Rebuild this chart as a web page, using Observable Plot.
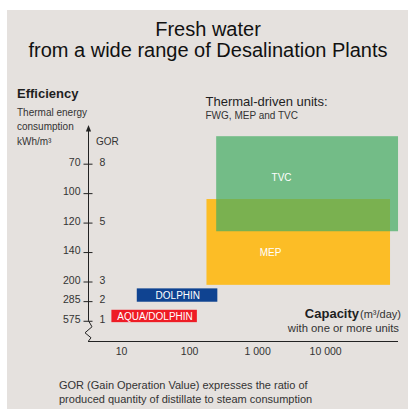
<!DOCTYPE html>
<html>
<head>
<meta charset="utf-8">
<script src="https://cdn.jsdelivr.net/npm/d3@7"></script>
<script src="https://cdn.jsdelivr.net/npm/@observablehq/plot@0.6"></script>
<style>
  html, body { margin: 0; padding: 0; background: #ffffff; }
  #wrap { position: relative; width: 408px; height: 409px; overflow: hidden; font-family: "Liberation Sans", Arial, sans-serif; color: #1e1e1e; }
  #panel { position: absolute; left: 7px; top: 10px; right: 0; bottom: 0; background: #e5e1de; }
  #chart { position: absolute; left: 0; top: 0; }
  .t { position: absolute; white-space: nowrap; line-height: 1; }
</style>
</head>
<body>
<div id="wrap">
  <div id="panel"></div>
  <div id="chart"></div>
  <div class="t" style="left:4px;width:408px;text-align:center;top:19px;font-size:20px;color:#111;">Fresh water</div>
  <div class="t" style="left:4px;width:408px;text-align:center;top:39.5px;font-size:20px;color:#111;">from a wide range of Desalination Plants</div>
  <div class="t" style="left:17px;top:86.5px;font-size:13px;font-weight:bold;">Efficiency</div>
  <div class="t" style="left:17px;top:107.5px;font-size:10px;color:#333;">Thermal energy</div>
  <div class="t" style="left:17px;top:122px;font-size:10px;color:#333;">consumption</div>
  <div class="t" style="left:17px;top:136.5px;font-size:10px;color:#333;">kWh/m³</div>
  <div class="t" style="left:96px;top:136.5px;font-size:10px;color:#333;">GOR</div>
  <div class="t" style="left:205.5px;top:95px;font-size:13px;">Thermal-driven units:</div>
  <div class="t" style="left:205.5px;top:110.5px;font-size:10px;color:#333;">FWG, MEP and TVC</div>
  <div class="t" style="right:7px;top:306.5px;font-size:13px;"><b>Capacity</b><span style="font-size:11px;color:#333;margin-left:1px;">(m³/day)</span></div>
  <div class="t" style="right:9px;top:322.5px;font-size:11.3px;color:#333;">with one or more units</div>
  <div class="t" style="left:59px;top:379.7px;font-size:11px;color:#333;">GOR (Gain Operation Value) expresses the ratio of</div>
  <div class="t" style="left:59px;top:393.7px;font-size:11px;color:#333;">produced quantity of distillate to steam consumption</div>
</div>
<script>
// ---- Data ----
// Efficiency axis: thermal energy consumption (kWh/m³) and GOR, by position on the (non-linear) efficiency scale
const effScalePos = [0, 1, 2, 3.5, 5, 6.5, 8];
const kwhLabels   = ["575", "285", "200", "140", "120", "100", "70"];
const gorLabels   = ["1", "2", "3", "", "5", "", "8"];

// Capacity axis (m³/day), log scale
const capTicks      = [10, 100, 1000, 10000];
const capTickLabels = ["10", "100", "1 000", "10 000"];

// Plant types: capacity range and efficiency-scale range
const plantNames = ["MEP", "TVC", "DOLPHIN", "AQUA/DOLPHIN"];
const capMin     = [180, 250, 17, 7.2];
const capMax     = [90000, 118000, 260, 130];
const effLow     = [1.83, 4.56, 0.97, -0.07];
const effHigh    = [6.2, 9.4, 1.65, 0.56];
const plantColor = ["#fcbd26", "#43ad63", "#0f4391", "#ee1c25"];
const plantAlpha = [1, 0.7, 1, 1];
// label anchor (capacity, efficiency-scale position)
const labelCap   = [1550, 2250, 67, 31];
const labelEff   = [3.5, 7.29, 1.31, 0.25];

const plants = plantNames.map((name, i) => ({
  name, x1: capMin[i], x2: capMax[i], y1: effLow[i], y2: effHigh[i],
  color: plantColor[i], alpha: plantAlpha[i], lx: labelCap[i], ly: labelEff[i]
}));
const effTicks = effScalePos.map((pos, i) => ({pos, kwh: kwhLabels[i], gor: gorLabels[i]}));

// custom y-axis line with arrow and break
function effAxisLine(index, scales, values, dims) {
  const x0 = dims.marginLeft + 0.5;
  const yTop = dims.marginTop;
  const yBreak = scales.y(effScalePos[0]);
  const yBot = dims.height - dims.marginBottom;
  const g = d3.create("svg:g");
  g.append("path")
    .attr("fill", "none").attr("stroke", "#222").attr("stroke-width", 1)
    .attr("d", `M${x0},${yTop + 5}V${yBreak}L${x0 + 3.5},${yBreak + 6}L${x0 - 3.5},${yBreak + 12}L${x0 + 2.5},${yBreak + 17}L${x0},${yBot}`);
  g.append("path")
    .attr("fill", "#222")
    .attr("d", `M${x0},${yTop}L${x0 - 2.6},${yTop + 6.5}L${x0 + 2.6},${yTop + 6.5}Z`);
  return g.node();
}

const chart = Plot.plot({
  width: 408,
  height: 409,
  marginLeft: 88,
  marginRight: 11,
  marginTop: 125,
  marginBottom: 68,
  x: {type: "log", domain: [3.26, 114000]},
  y: {domain: [-1.03, 9.97]},
  style: {background: "transparent", fontFamily: "'Liberation Sans', Arial, sans-serif", overflow: "visible"},
  marks: [
    Plot.rect(plants, {x1: "x1", x2: "x2", y1: "y1", y2: "y2", fill: "color", fillOpacity: "alpha"}),
    Plot.text(plants, {x: "lx", y: "ly", text: "name", fill: "white", fontSize: 10}),
    Plot.frame({anchor: "bottom", stroke: "#222"}),
    effAxisLine,
    Plot.axisY({ticks: effScalePos, tickSize: 9, dx: 4.5, tickFormat: () => "", stroke: "#222"}),
    Plot.text(effTicks, {y: "pos", text: "kwh", frameAnchor: "left", dx: -8, textAnchor: "end", lineAnchor: "bottom", dy: 1.5, fontSize: 10.5, fill: "#333"}),
    Plot.text(effTicks, {y: "pos", text: "gor", frameAnchor: "left", dx: 11, textAnchor: "start", lineAnchor: "bottom", dy: 1.5, fontSize: 10.5, fill: "#333"}),
    Plot.axisX({ticks: capTicks, tickFormat: d => capTickLabels[capTicks.indexOf(d)], tickSize: 0, tickPadding: 6, fontSize: 10.5, fill: "#333"})
  ]
});
document.getElementById("chart").appendChild(chart);
</script>
</body>
</html>
